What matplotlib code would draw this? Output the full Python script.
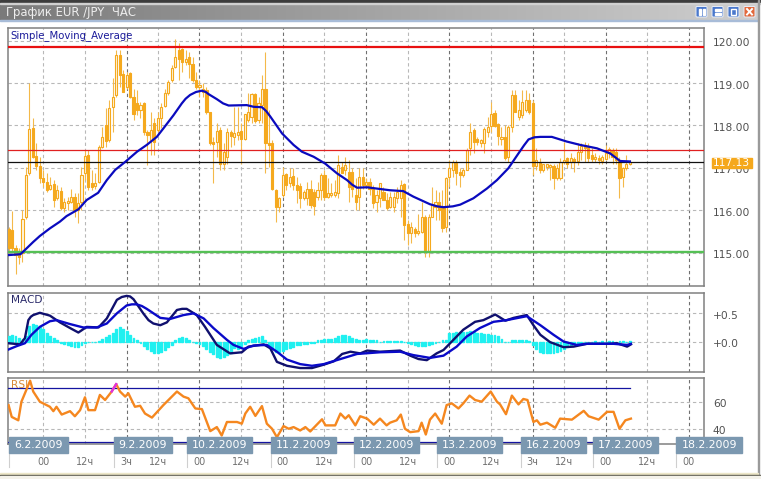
import numpy as np
import matplotlib
matplotlib.use('Agg')
import matplotlib.pyplot as plt
from matplotlib.patches import Rectangle, FancyBboxPatch
from matplotlib.transforms import ScaledTranslation

# hourly candles, first value is hour -10 (hour 0 = 6.2.2009 00:00)
highs = [115.61,115.98,115.18,115.10,116.00,117.03,118.99,118.17,117.58,117.26,
116.95,116.87,116.79,116.71,116.59,116.55,116.28,116.32,116.51,116.40,
116.40,117.03,117.42,117.42,116.95,116.87,117.54,117.97,118.40,118.60,
119.11,119.78,119.78,119.31,119.27,119.27,118.87,118.84,118.56,118.56,
117.89,118.32,118.17,118.32,118.52,118.87,119.07,119.43,120.03,119.94,
119.82,119.78,119.74,119.62,119.27,119.07,118.99,118.91,118.32,117.73,
118.05,117.97,117.58,117.93,117.89,118.44,118.44,118.05,118.28,118.76,
118.76,118.76,118.68,119.19,119.74,118.36,117.66,116.51,116.32,117.03,
116.87,116.99,116.99,116.79,116.63,116.47,116.67,116.71,116.51,116.67,
116.87,116.95,116.75,116.63,116.71,117.30,117.14,117.26,117.18,116.99,
116.75,116.99,116.99,116.75,116.75,116.59,116.47,116.65,116.55,116.40,
116.43,116.43,116.55,116.71,116.63,115.77,115.73,115.61,115.92,116.20,
115.88,115.92,116.55,116.47,116.43,116.47,116.79,117.18,117.18,117.18,
116.99,116.99,117.46,118.05,117.93,117.73,117.69,117.97,118.21,118.56,
118.36,118.05,117.97,118.01,118.01,118.84,118.84,118.60,118.84,118.84,
118.76,118.60,117.46,117.22,117.10,117.10,117.10,117.10,117.10,117.22,
117.62,117.26,117.34,117.26,117.58,117.58,117.62,117.58,117.46,117.34,
117.30,117.30,117.54,117.50,117.46,117.46,117.26,117.03,117.30,117.18]
lows = [114.98,114.98,114.49,114.74,114.78,115.80,116.83,117.22,116.95,116.63,
116.55,116.43,116.47,116.08,116.24,116.00,115.96,116.00,116.16,115.84,
115.69,116.00,116.71,116.47,116.47,116.51,116.63,117.46,117.50,117.62,
117.85,118.68,118.91,118.80,118.87,118.64,118.14,118.24,118.17,117.77,
117.06,117.30,117.30,117.85,117.93,118.44,118.72,119.03,119.35,119.07,
119.27,119.43,119.11,119.03,118.87,118.68,118.68,118.28,117.54,116.63,
117.26,116.95,116.95,117.10,117.50,117.54,117.66,117.10,117.66,118.09,
118.05,118.05,118.05,118.05,116.87,117.03,116.47,115.73,115.96,116.32,
116.47,116.55,116.47,116.16,116.04,116.24,116.12,116.04,115.88,116.24,
116.24,116.24,116.28,116.32,116.32,116.28,116.87,116.83,116.20,116.32,
116.00,116.00,116.51,116.55,116.36,116.04,115.96,116.08,116.24,116.00,
116.04,115.96,116.16,115.84,115.29,115.18,115.22,115.37,115.41,115.45,
114.90,114.90,115.84,115.77,115.77,115.49,115.49,116.55,116.79,116.59,
116.55,116.79,116.95,117.30,117.34,117.54,117.50,117.34,117.73,117.85,
117.97,117.54,117.54,117.18,117.14,117.85,118.32,118.13,118.17,118.32,
118.28,116.83,116.95,116.87,116.91,116.95,116.71,116.51,116.71,116.71,
117.10,116.99,116.99,116.91,117.06,117.18,117.14,117.14,117.14,117.14,
117.10,117.10,117.18,117.22,117.10,117.10,116.28,116.55,116.95,117.06]
body_top = [115.55,115.53,115.10,114.98,115.80,116.83,117.91,117.93,117.28,117.05,
116.75,116.67,116.59,116.61,116.47,116.46,116.20,116.21,116.32,116.32,
116.16,116.83,117.28,117.30,116.65,116.65,117.50,117.73,118.02,118.40,
118.68,119.66,119.66,119.21,119.19,119.23,118.68,118.52,118.48,118.52,
117.85,117.89,118.05,118.17,118.44,118.76,119.03,119.35,119.62,119.78,
119.80,119.58,119.61,119.46,119.07,118.95,118.87,118.84,118.32,117.62,
117.88,117.89,117.38,117.85,117.85,117.81,117.85,117.88,118.28,118.32,
118.74,118.74,118.52,118.87,118.87,117.59,117.59,116.47,116.28,116.83,
116.85,116.79,116.81,116.59,116.57,116.43,116.51,116.51,116.43,116.47,
116.83,116.83,116.40,116.41,116.42,117.06,117.03,117.06,116.91,116.89,
116.36,116.79,116.79,116.67,116.66,116.51,116.36,116.63,116.43,116.24,
116.32,116.32,116.43,116.59,116.62,115.67,115.61,115.55,115.51,115.84,
115.84,115.84,116.12,116.20,116.20,116.08,116.75,116.99,117.13,117.12,
116.91,116.95,117.43,117.85,117.89,117.67,117.66,117.91,117.97,118.28,
118.30,118.03,117.73,117.73,117.97,118.72,118.72,118.36,118.56,118.61,
118.60,118.52,117.18,117.14,117.09,117.09,117.06,117.05,116.99,117.14,
117.18,117.22,117.22,117.20,117.38,117.52,117.54,117.50,117.30,117.26,
117.24,117.25,117.36,117.44,117.42,117.38,117.18,116.99,117.10,117.13]
body_bottom = [115.10,115.10,114.94,114.90,114.98,115.84,116.87,117.26,117.04,116.75,
116.67,116.47,116.50,116.25,116.28,116.04,116.04,116.16,116.20,116.00,
116.00,116.20,116.87,116.55,116.55,116.58,116.66,117.50,117.64,117.66,
118.43,118.72,119.19,118.80,118.91,118.68,118.28,118.36,118.36,117.85,
117.77,117.66,117.62,117.89,118.17,118.46,118.76,119.07,119.39,119.58,
119.50,119.50,119.45,119.07,118.91,118.90,118.80,118.32,117.58,117.56,
117.62,117.10,117.10,117.26,117.75,117.73,117.77,117.67,117.69,118.14,
118.21,118.11,118.13,118.48,117.58,117.54,116.49,116.08,116.08,116.36,
116.59,116.65,116.59,116.47,116.28,116.29,116.28,116.12,116.10,116.32,
116.47,116.32,116.32,116.36,116.36,116.40,116.87,116.95,116.55,116.51,
116.20,116.32,116.59,116.59,116.51,116.16,116.20,116.28,116.25,116.06,
116.08,116.08,116.28,116.28,115.65,115.45,115.45,115.45,115.45,115.49,
115.06,115.02,115.84,116.08,116.00,115.57,115.61,116.79,116.95,116.87,
116.83,116.83,116.95,117.46,117.62,117.62,117.58,117.58,117.85,117.99,
117.99,117.75,117.69,117.22,117.26,117.97,118.32,118.21,118.24,118.36,
118.32,117.04,117.04,116.95,116.95,117.03,117.03,116.75,116.75,116.75,
117.13,117.10,117.14,117.14,117.16,117.38,117.46,117.22,117.20,117.20,
117.18,117.17,117.20,117.34,117.26,117.18,116.75,116.79,116.99,117.10]
rising = [0,0,0,0,1,1,1,0,0,0,
0,0,1,0,1,0,1,1,1,0,
1,1,1,0,0,1,1,1,0,1,
1,1,0,0,1,0,0,0,1,0,
0,1,0,1,1,1,1,1,1,0,
0,1,0,0,0,1,1,0,0,0,
1,0,1,1,0,1,1,0,1,1,
1,0,1,1,0,0,0,0,1,1,
0,1,0,0,0,1,1,0,0,1,
1,0,1,1,1,1,0,1,0,0,
0,1,0,1,0,0,1,1,0,0,
1,1,1,1,0,0,1,0,1,1,
0,1,1,1,0,0,1,1,1,0,
0,1,1,1,0,0,1,1,1,1,
0,0,1,0,1,1,0,1,1,1,
0,0,1,0,1,1,1,0,1,1,
1,0,1,0,1,1,0,0,0,1,
0,1,1,1,0,0,0,1,1,1]

sma_hours = [-10,-6.6,-5.3,-2.9,-1,1.9,4.8,6.7,10.1,12.5,15.8,18.3,20.7,23.6,27,29.8,32.7,34.6,37.5,39.9,
41,42.3,44,45.7,46.8,47.6,50,51.8,53.4,58.6,60.6,63,64.2,65.4,68.8,72.1,74.5,77.9,81.2,84.6,87.5,89,90.4,93.3,97,99.9,
103.7,106.6,111.4,113.5,115.3,118,120.1,123.9,127.8,130.7,134,136.9,138.5,139.8,141.5,143.2,146.5,150.8,154.7,159.5,163.3,166.2,169]
sma_values = [114.94,114.96,115.06,115.25,115.39,115.57,115.73,115.86,116.02,116.24,116.41,116.71,116.95,117.14,117.38,117.54,117.73,117.93,118.24,118.52,
118.63,118.72,118.79,118.82,118.79,118.74,118.62,118.52,118.47,118.48,118.44,118.43,118.34,118.21,117.81,117.54,117.38,117.26,117.10,116.87,116.71,116.60,116.53,116.54,116.50,116.47,
116.45,116.32,116.14,116.09,116.07,116.09,116.13,116.28,116.51,116.71,116.99,117.34,117.53,117.67,117.72,117.73,117.73,117.62,117.54,117.46,117.34,117.16,117.15]

level_top = 119.85
level_mid = 117.41
level_last = 117.13
level_low = 115.01

macd_hours = [-10,-6.7,-5.3,-4.3,-3.6,-2.9,-1,1.9,4.8,7.7,10.1,12.5,15.9,18.3,21.2,22.6,24,25,26,28.8,30.3,31.7,33.7,35.6,
38.5,40,41.3,44.2,46.6,50,53.8,57.2,59.1,63.5,65.4,67.3,70.2,74,77.4,80.8,83.7,86.1,88.5,91.3,93.3,
97,102.8,105.7,108.1,110.5,113.3,115.3,117.2,121,124.4,126.8,130.2,133.1,135.5,139.3,141.2,143.2,146,149.9,152.8,
156.6,162.4,165.3,168.2,169.3]
macd_values = [-0.03,-0.05,0.06,0.38,0.44,0.47,0.51,0.46,0.34,0.24,0.16,0.26,0.25,0.41,0.74,0.79,0.81,0.80,0.75,0.50,0.38,0.32,0.29,0.34,
0.56,0.58,0.58,0.47,0.26,-0.06,-0.21,-0.19,-0.09,-0.05,-0.12,-0.36,-0.43,-0.47,-0.47,-0.41,-0.35,-0.22,-0.18,-0.21,-0.16,
-0.18,-0.16,-0.25,-0.31,-0.33,-0.21,-0.15,-0.03,0.21,0.35,0.38,0.48,0.37,0.42,0.47,0.29,0.12,-0.01,-0.10,-0.09,
-0.04,-0.04,-0.03,-0.09,-0.05]
signal_hours = [-10,-7.6,-5.3,-3.4,-1,1.9,3.8,7.7,11.5,15.4,18.3,21.2,24,25.5,26.9,28.4,29.8,33.7,36.5,40.4,43.3,46.2,
49,52.9,54.8,57.7,60.6,64.4,67.3,70.2,74,77.4,80.8,85.6,90.4,97,102.8,106.6,111.4,115.3,119.1,122,
125.8,129.7,133.5,139.3,143.2,147,149.9,153.7,156.6,164.3,168.2,169.3]
signal_values = [-0.14,-0.08,-0.03,0.12,0.26,0.36,0.38,0.31,0.25,0.25,0.32,0.50,0.64,0.66,0.66,0.63,0.58,0.42,0.40,0.47,0.50,0.41,
0.24,0.03,-0.06,-0.13,-0.07,-0.06,-0.18,-0.32,-0.40,-0.43,-0.40,-0.31,-0.22,-0.19,-0.18,-0.24,-0.29,-0.25,-0.09,0.09,
0.24,0.35,0.38,0.45,0.29,0.12,0.00,-0.06,-0.04,-0.04,-0.06,-0.04]
histogram = [.10,.11,.09,.06,.05,.10,.28,.31,.30,.26,
.22,.16,.10,.06,.03,-.02,-.05,-.07,-.08,-.09,-.09,-.07,-.03,-.01,-.01,-.01,.01,.05,.08,.12,
.16,.22,.26,.22,.19,.12,.07,.02,-.03,-.08,-.13,-.17,-.20,-.20,-.19,-.15,-.10,-.06,.02,.07,
.08,.07,.03,.00,-.03,-.05,-.08,-.13,-.18,-.22,-.27,-.29,-.28,-.24,-.20,-.12,-.14,-.08,-.05,.02,
.04,.06,.08,.10,.03,-.06,-.14,-.18,-.18,-.17,-.14,-.12,-.09,-.07,-.06,-.05,-.04,-.03,-.02,.02,
.03,.04,.04,.05,.07,.10,.11,.11,.09,.06,.05,.03,.03,.04,.03,.02,.02,.00,.01,.01,
.01,.01,.01,.01,-.01,-.03,-.05,-.07,-.08,-.08,-.08,-.07,-.05,-.03,-.01,.02,.03,.15,.16,.17,
.17,.17,.17,.18,.17,.16,.15,.14,.13,.12,.12,.09,.05,.00,-.01,.02,.02,.03,.03,.03,
.01,-.07,-.14,-.18,-.20,-.20,-.20,-.20,-.19,-.17,-.14,-.10,-.07,-.05,-.03,-.02,.00,.00,.00,.01,
.00,.01,.00,.01,.01,.00,.01,.01,.00,.01]

rsi_hours = [-10,-9.1,-7.2,-6.3,-5,-3.8,-2.9,-1,1.9,2.9,3.8,5.3,7.7,9.1,10.6,12,13,14.9,16.3,17.8,
19.7,21,22.1,23.6,24.5,26.4,27.9,29.3,31.3,34.6,38.5,40.4,41.8,43.8,45.7,48.1,50,51.4,52.9,55.8,
57.2,58.2,59.6,61.1,63,64.4,65.9,67.3,69.2,70.7,72.1,74,75.5,76.9,80.3,81.3,84.1,85.6,87,88,
89.9,91.3,93.3,95.2,97,98.9,99.9,101.8,103,104.2,105.7,108.1,109,110.2,111.4,112.9,114.8,116.2,117.7,119.6,
121,122.8,124.4,126.3,128.9,130.7,131.6,133.3,135,136.9,138.3,139.5,141.2,142.2,143.2,145.1,147.5,148.9,152.3,155.7,
157.1,160,162.4,164.3,166,167.7,169.3]
rsi_values = [57.5,48.75,46.25,60,68,75.5,67.5,60,56.25,53,56.25,50.5,53,49.25,53.75,63.25,53.75,53.75,65,61.25,
67.5,73,67.5,63.75,66.25,56.25,57,51.25,48.25,57.5,67.5,63.75,62.5,55,54.5,38.25,41.25,35,45,45,
43.75,51.25,56.25,49.5,56.75,43.75,40,33.75,42,40,41.25,38.75,41.25,38,47,42.5,42.5,51.25,47.5,50,
42.5,49.25,47.5,43,47.5,42.5,44.5,46.25,50.5,40,37.5,38.25,44.5,35.75,46.75,51.25,43.75,57.5,58.75,55,
58.75,64.5,61.25,60,67.5,60,58,50.75,64.5,58,62,61.25,45,46.25,43,44.5,40.75,47.5,46.75,53.25,
49.25,46.75,52.5,52.5,40,46.25,47.5]

day_hours = [24,45,69,93,117,141,162,186]
half_hours = [0,12,33,57,81,105,129,150,174]
price_ticks = [120,119,118,117,116,115]
price_labels = ['120.00','119.00','118.00','117.00','116.00','115.00']
macd_ticks = [0.5,0.0]
macd_labels = ['+0.5','+0.0']
rsi_ticks = [60,40]
rsi_labels = ['60','40']
date_labels = ['6.2.2009','9.2.2009','10.2.2009','11.2.2009','12.2.2009','13.2.2009','16.2.2009','17.2.2009','18.2.2009']
hour_labels = ['00','12ч','3ч','12ч','00','12ч','00','12ч','00','12ч','00','12ч','3ч','12ч','00','12ч','00']
hour_label_hours = [0,12,24,33,45,57,69,81,93,105,117,129,141,150,162,174,186]

W, H = 761, 479
ORANGE = '#F5A91E'
WICK = '#F4B94A'
GRID = '#b8b8b8'
TXT = '#505050'
BORDER = '#808080'

fig = plt.figure(figsize=(W / 100, H / 100), dpi=100, facecolor='white')


def panel(left, top, right, bottom):
    return fig.add_axes([left / W, 1 - bottom / H, (right - left) / W, (bottom - top) / H])


# fond pour la fenetre, en pixels
bg = fig.add_axes([0, 0, 1, 1], zorder=0)
bg.set_xlim(0, W)
bg.set_ylim(H, 0)
bg.axis('off')
grad = np.linspace(0, 1, 256).reshape(1, -1)
bg.imshow(grad, extent=(0, 758, 20, 4), cmap=matplotlib.colors.LinearSegmentedColormap.from_list('t', ['#7a7a7a', '#cfcfcf']),
          aspect='auto', zorder=1)
bg.set_xlim(0, W)
bg.set_ylim(H, 0)
bg.add_patch(Rectangle((0, 0), W, 3, color='#3c3c3c', zorder=2))
bg.add_patch(Rectangle((0, 3), W, 1, color='#d0d0d0', zorder=2))
bg.add_patch(Rectangle((0, 20), 758, 1, color='#a8bcd8', zorder=2))
bg.add_patch(Rectangle((758, 0), 1, H, color='#9a9a9a', zorder=2))
bg.add_patch(Rectangle((0, 472.5), 758, 2.5, color='#ece6c8', zorder=2))
bg.add_patch(Rectangle((0, 475), W, 1, color='#555548', zorder=2))
bg.add_patch(Rectangle((0, 476), W, 3, color='#f4f2ea', zorder=2))
bg.text(6.5, 12.2, 'График EUR /JPY  ЧАС', color='#eeeeee', fontsize=8.4, va='center', ha='left', zorder=3)

# boutons de la fenetre
for bx, col in zip([696, 712, 728, 744], ['#4a78cc', '#4a78cc', '#4a78cc', '#e2683a']):
    bg.add_patch(FancyBboxPatch((bx + 1, 7.5), 9, 8.5, boxstyle='round,pad=1', fc=col, ec='#e8eef8', lw=0.7, zorder=3))
bg.add_patch(Rectangle((699, 8.8), 2, 6.5, color='white', zorder=4))
bg.add_patch(Rectangle((702.8, 8.8), 2, 6.5, color='white', zorder=4))
bg.add_patch(Rectangle((714.5, 8.8), 6, 2.2, color='white', zorder=4))
bg.add_patch(Rectangle((714.5, 12.8), 6, 2.2, color='white', zorder=4))
bg.add_patch(Rectangle((731, 9.3), 5, 5.2, fc='none', ec='white', lw=1.0, zorder=4))
bg.plot([747, 752], [9, 14.5], color='white', lw=1.4, zorder=4)
bg.plot([747, 752], [14.5, 9], color='white', lw=1.4, zorder=4)

ax_price = panel(8, 28, 704, 286)
ax_macd = panel(8, 292.5, 704, 372)
ax_rsi = panel(8, 378, 704, 444)
X0, X1 = -10.17, 190.35
label_shift = ScaledTranslation(0, -0.015, fig.dpi_scale_trans)


def style(ax, ymin, ymax, ticks, labels):
    ax.set_xlim(X0, X1)
    ax.set_ylim(ymin, ymax)
    ax.set_xticks([])
    ax.set_yticks(ticks)
    ax.set_yticklabels(labels, color=TXT, fontsize=7.7)
    ax.yaxis.tick_right()
    ax.tick_params(axis='y', length=0, pad=6.3)
    for lab in ax.get_yticklabels():
        lab.set_transform(lab.get_transform() + label_shift)
    for s in ax.spines.values():
        s.set_color(BORDER)
        s.set_linewidth(1.1)
    for h in day_hours:
        ax.axvline(h, color='#707070', lw=0.8, ls=(0, (3, 2.5)), zorder=1)
    for h in half_hours:
        ax.axvline(h, color=GRID, lw=0.8, ls=(0, (3, 2.5)), zorder=1)
    for t in ticks:
        ax.plot([X0, X1], [t, t], color=GRID, lw=0.8, ls=(0, (3, 2.5)), zorder=1)
    ax.set_zorder(2)
    ax.patch.set_facecolor('white')


style(ax_price, 114.21, 120.30, price_ticks, price_labels)
style(ax_macd, -0.54, 0.87, macd_ticks, macd_labels)
style(ax_rsi, 28.75, 77.5, rsi_ticks, rsi_labels)

# bougies
hours = np.arange(len(highs)) - 10
highs_a = np.array(highs)
lows_a = np.array(lows)
top_a = np.array(body_top)
bot_a = np.array(body_bottom)
rise_a = np.array(rising, dtype=bool)
ax_price.vlines(hours, lows_a, highs_a, color=WICK, lw=0.8, zorder=3)
ax_price.bar(hours[rise_a], (top_a - bot_a)[rise_a], bottom=bot_a[rise_a], width=0.62, fc='#FFF6E0', ec=ORANGE, lw=0.8, zorder=4)
ax_price.bar(hours[~rise_a], (top_a - bot_a)[~rise_a], bottom=bot_a[~rise_a], width=0.62, fc=ORANGE, ec=ORANGE, lw=0.8, zorder=4)

ax_price.axhline(level_top, color='#E81010', lw=1.6, zorder=5)
ax_price.axhline(level_mid, color='#E02020', lw=0.9, zorder=5)
ax_price.axhline(level_last, color='#101010', lw=0.9, zorder=5)
ax_price.axhline(level_low, color='#55C055', lw=1.7, zorder=5)
ax_price.plot(sma_hours, sma_values, color='#0A0ABE', lw=1.6, zorder=6)
ax_price.text(0.004, 0.99, 'Simple_Moving_Average', transform=ax_price.transAxes, color='#1a1a9a', fontsize=7.3, va='top', ha='left')

# etiquette du dernier prix
bg2 = fig.add_axes([0, 0, 1, 1], zorder=5)
bg2.set_xlim(0, W)
bg2.set_ylim(H, 0)
bg2.axis('off')
bg2.add_patch(Rectangle((711.5, 157.5), 40, 10.5, color='#F5A81C', zorder=3))
bg2.text(731.5, 162.8, '117.13', color='white', fontsize=7.7, ha='center', va='center', zorder=4)

# MACD
ax_macd.bar(np.arange(len(histogram)) - 10, histogram, width=0.55, color='#1FF0F0', ec='#1FF0F0', lw=1.0, zorder=3)
ax_macd.plot(macd_hours, macd_values, color='#10106E', lw=1.7, zorder=4)
ax_macd.plot(signal_hours, signal_values, color='#0A0AC8', lw=1.7, zorder=5)
ax_macd.text(0.004, 0.97, 'MACD', transform=ax_macd.transAxes, color='#2a2a6a', fontsize=7.6, va='top', ha='left')

# RSI
ax_rsi.plot([X0, 169], [70, 70], color='#1414A0', lw=0.9, zorder=3)
ax_rsi.plot([X0, 169], [30, 30], color='#1414A0', lw=0.9, zorder=3)
ax_rsi.plot(rsi_hours, rsi_values, color='#F5871F', lw=1.7, zorder=4)
ax_rsi.plot(rsi_hours[20:22], rsi_values[20:22], color='#E030E0', lw=1.7, zorder=5)
ax_rsi.text(0.004, 0.97, 'RSI', transform=ax_rsi.transAxes, color='#D98A3A', fontsize=7.6, va='top', ha='left')

# dates et heures en bas
box_left = [9, 113.7, 186.7, 270.7, 353.5, 436.7, 520.7, 593.3, 676.3]
box_right = [68, 172, 252, 336, 419, 501.7, 585.7, 658.3, 742]
for lab, l, r in zip(date_labels, box_left, box_right):
    bg2.add_patch(Rectangle((l, 437.3), r - l, 15.4, color='#7B98B0', zorder=3))
    bg2.text((l + r) / 2, 445.2, lab, color='white', fontsize=7.9, ha='center', va='center', zorder=4)
    bg2.plot([l, l], [452.7, 467], color='#cfcfcf', lw=0.8, zorder=2)
for lab, h in zip(hour_labels, hour_label_hours):
    px = 8 + (h - X0) / (X1 - X0) * 696
    bg2.text(px, 461.8, lab, color='#707070', fontsize=7, ha='center', va='center', zorder=4)

fig.savefig('out.png', dpi=100)
